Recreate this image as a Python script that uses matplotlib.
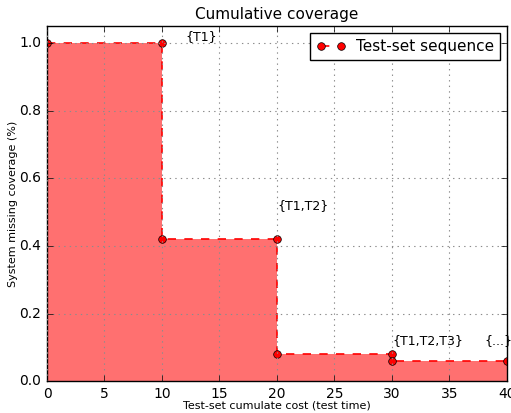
import matplotlib
matplotlib.use("Agg")
import matplotlib.pyplot as plt

# cumulative cost of each test-set prefix and the coverage still missing after it
cost = [0, 10, 10, 20, 20, 30, 30, 40]
missing = [1.0, 1.0, 0.42, 0.42, 0.08, 0.08, 0.06, 0.06]

labels = ["{T1}", "{T1,T2}", "{T1,T2,T3}", "{...}"]
label_x = [12, 20, 30, 38]
label_y = [1.0, 0.5, 0.1, 0.1]

plt.style.use("classic")
fig = plt.figure(figsize=(5.11, 4.13), dpi=100)
fig.patch.set_facecolor("white")
ax = fig.add_axes((0.092, 0.077, 0.9, 0.86))

ax.fill_between(cost, missing, 0, color="r", alpha=0.56, linewidth=0)
ax.plot(cost, missing, "r--o", markersize=5.5, linewidth=1.2, label="Test-set sequence")

for txt, x, y in zip(labels, label_x, label_y):
    ax.text(x, y, txt, fontsize=9, va="bottom", ha="left")

ax.set_xlim(0, 40)
ax.set_ylim(0, 1.05)
ax.set_xticks(range(0, 41, 5))
ax.set_yticks([0.0, 0.2, 0.4, 0.6, 0.8, 1.0])
ax.tick_params(labelsize=10)
ax.grid(True, color="0.55", linestyle=":", linewidth=0.8)

ax.set_title("Cumulative coverage", fontsize=11)
ax.set_xlabel("Test-set cumulate cost (test time)", fontsize=8, labelpad=0)
ax.set_ylabel("System missing coverage (%)", fontsize=8, labelpad=1)
ax.legend(loc="upper right", fontsize=11, numpoints=2, borderaxespad=0.45,
          handlelength=1.9, handletextpad=0.7)

fig.savefig("out.png", dpi=100, facecolor="white")
